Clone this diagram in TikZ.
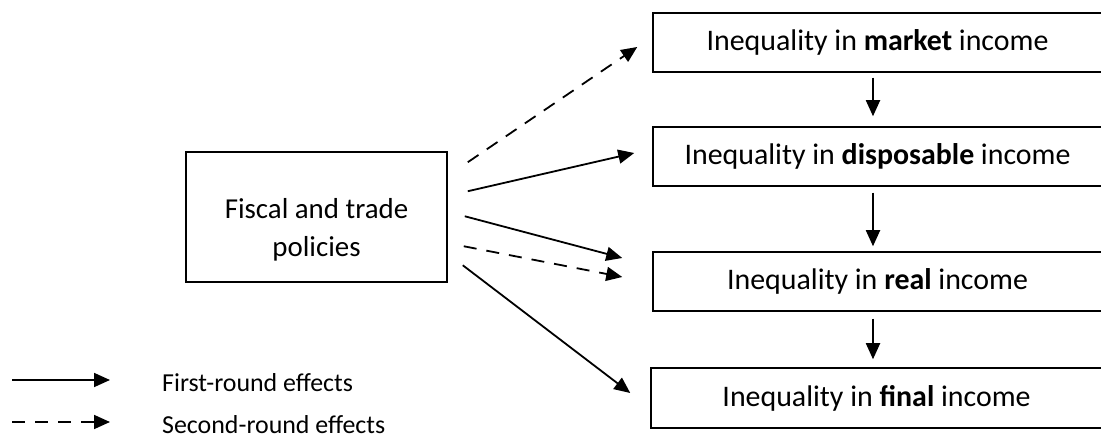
\documentclass[tikz,border=0pt]{standalone}
\usepackage{fontspec}
\setmainfont{Carlito}
\usetikzlibrary{arrows.meta}
\begin{document}
\begin{tikzpicture}[x=1bp,y=-1bp,
  box/.style={draw=black,line width=1.5bp,inner sep=0pt,align=center,font=\fontsize{30}{36}\selectfont},
  solidarrow/.style={line width=1.8bp,-{Triangle[length=16bp,width=14bp]}},
  dasharrow/.style={line width=1.8bp,dash pattern=on 13bp off 10bp,-{Triangle[length=16bp,width=14bp]}},
  legtext/.style={anchor=west,inner sep=0pt,font=\fontsize{26}{30}\selectfont}]
\useasboundingbox (0,0) rectangle (1101,439);
\node[box,minimum width=449bp,minimum height=59bp] (market) at (877.5,42.5) {Inequality in \textbf{market} income};
\node[box,minimum width=449bp,minimum height=59bp] (disp) at (877.5,156.5) {Inequality in \textbf{disposable} income};
\node[box,minimum width=449bp,minimum height=59bp] (real) at (877.5,281.5) {Inequality in \textbf{real} income};
\node[box,minimum width=451bp,minimum height=60bp] (final) at (876.5,398) {Inequality in \textbf{final} income};
\node[box,minimum width=261bp,minimum height=130bp] (fiscal) at (316.5,217) {};
\node[align=center,inner sep=0pt,font=\fontsize{29}{38}\selectfont] (fiscaltext) at (316.5,230) {Fiscal and trade\\policies};
% vertical arrows
\draw[solidarrow] ([shift={(-4.5,5)}]market.south) -- ([shift={(-4.5,-10)}]disp.north);
\draw[solidarrow] ([shift={(-4.5,6)}]disp.south) -- ([shift={(-4.5,-5)}]real.north);
\draw[solidarrow] ([shift={(-4.5,7)}]real.south) -- ([shift={(-3.5,-8)}]final.north);
% fiscal arrows
\draw[dasharrow] ([shift={(20,11)}]fiscal.north east) -- ([shift={(-15,4.5)}]market.west);
\draw[solidarrow] ([shift={(20,40)}]fiscal.north east) -- ([shift={(-18,-3.5)}]disp.west);
\draw[solidarrow] ([shift={(17,65)}]fiscal.north east) -- ([shift={(-30,-23.5)}]real.west);
\draw[dasharrow] ([shift={(16,95)}]fiscal.north east) -- ([shift={(-30,-4.5)}]real.west);
\draw[solidarrow] ([shift={(15,114)}]fiscal.north east) -- ([shift={(-20,-5)}]final.west);
% legend
\coordinate (l1a) at (12,380);
\coordinate (l1b) at (110,380);
\coordinate (l2a) at (12,422);
\coordinate (l2b) at (110,422);
\draw[solidarrow] (l1a) -- (l1b);
\draw[dasharrow] (l2a) -- (l2b);
\node[legtext] (t1) at (162,383) {First-round effects};
\node[legtext] (t2) at (162,425) {Second-round effects};
\end{tikzpicture}
\end{document}
